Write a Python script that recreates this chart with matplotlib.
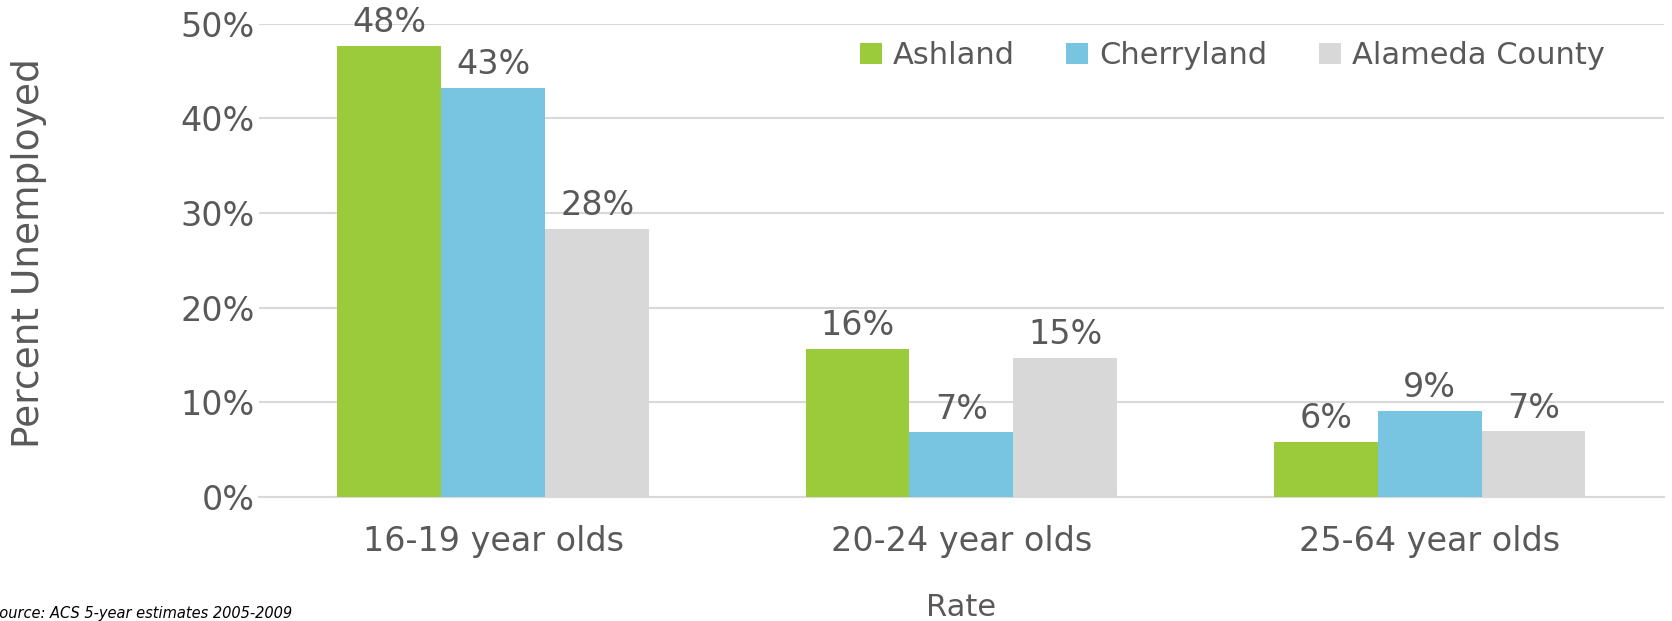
import numpy as np
import matplotlib
matplotlib.use("Agg")
import matplotlib.pyplot as plt

# unemployment rate by age group
groups = ["16-19 year olds", "20-24 year olds", "25-64 year olds"]
ashland = [0.476, 0.156, 0.058]
cherryland = [0.432, 0.068, 0.091]
alameda = [0.283, 0.147, 0.069]
series_names = ["Ashland", "Cherryland", "Alameda County"]
colors = ["#9BCB3B", "#77C5E0", "#D8D8D8"]
yticks = [0, 0.1, 0.2, 0.3, 0.4, 0.5]

text_color = "#595959"
plt.rcParams["font.family"] = ["DejaVu Sans"]

fig = plt.figure(figsize=(16.72, 6.21), dpi=100)
ax = fig.add_axes([0.155, 0.2, 0.84, 0.762])

x = np.arange(len(groups))
width = 0.222
for i, (vals, name, c) in enumerate(zip([ashland, cherryland, alameda], series_names, colors)):
    pos = x + (i - 1) * width
    bars = ax.bar(pos, vals, width, color=c, label=name, zorder=3)
    for b, v in zip(bars, vals):
        ax.annotate(f"{round(v * 100):d}%", (b.get_x() + b.get_width() / 2, v),
                    xytext=(0, 5), textcoords="offset points",
                    ha="center", va="bottom", fontsize=24, color=text_color)

ax.set_xlim(-0.5, 2.5)
ax.set_ylim(0, 0.5)
ax.set_yticks(yticks)
ax.set_yticklabels([f"{int(t * 100)}%" for t in yticks])
ax.set_xticks(x)
ax.set_xticklabels(groups)
ax.tick_params(axis="both", length=0, labelsize=24, colors=text_color)
ax.tick_params(axis="x", pad=20)
ax.tick_params(axis="y", pad=3)
ax.grid(axis="y", color="#D9D9D9", linewidth=1.5, zorder=0)
for s in ["top", "right", "left"]:
    ax.spines[s].set_visible(False)
ax.spines["bottom"].set_color("#D9D9D9")
ax.spines["bottom"].set_linewidth(1.5)

ax.set_ylabel("Percent Unemployed", fontsize=27, color=text_color)
ax.yaxis.set_label_coords(-0.151, 0.515)
ax.set_xlabel("Rate", fontsize=22, color=text_color)
ax.xaxis.set_label_coords(0.5, -0.203)

ax.legend(loc="center right", bbox_to_anchor=(0.958, 0.932), ncol=3, frameon=False,
          fontsize=22, labelcolor=text_color, handlelength=0.72, handleheight=0.72,
          handletextpad=0.35, columnspacing=1.7, borderpad=0, borderaxespad=0)

fig.text(-0.006, 0.024, "Source: ACS 5-year estimates 2005-2009", fontsize=10.5,
         style="italic", color="black", ha="left", va="top")

fig.savefig("out.png", dpi=100)
